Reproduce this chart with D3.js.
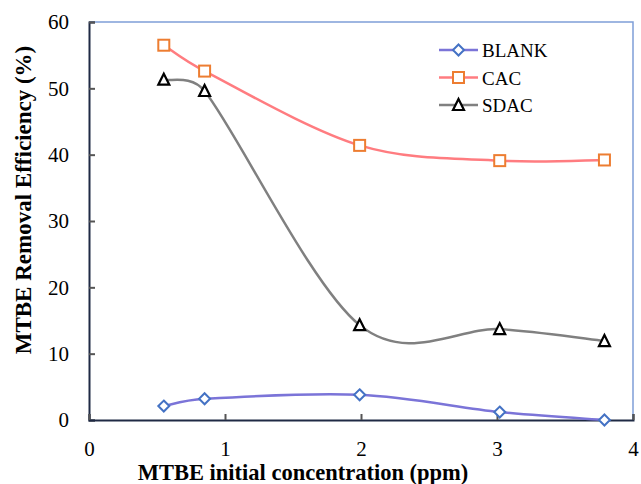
<!DOCTYPE html>
<html><head><meta charset="utf-8">
<script src="https://cdn.jsdelivr.net/npm/d3@7"></script>
<style>body{margin:0;background:#fff}svg{display:block}</style>
</head><body>
<script>
const xValues = [0.55, 0.85, 1.99, 3.02, 3.79];
const blank = [2.1, 3.2, 3.8, 1.2, 0.0];
const cac = [56.5, 52.6, 41.4, 39.1, 39.2];
const sdac = [51.3, 49.6, 14.3, 13.7, 11.9];
const xTicks = [0, 1, 2, 3, 4];
const yTicks = [0, 10, 20, 30, 40, 50, 60];
const seriesNames = ["BLANK", "CAC", "SDAC"];

const W = 641, H = 484;
const m = {l: 89, t: 22, r: 8, b: 64};
const svg = d3.select("body").append("svg").attr("width", W).attr("height", H);
const x = d3.scaleLinear().domain([0, 4]).range([m.l, W - m.r]);
const y = d3.scaleLinear().domain([0, 60]).range([H - m.b, m.t]);
const font = "'Liberation Serif', 'Times New Roman', serif";

// Excel-like smoothed line curve for d3.line
function ExcelSmooth(context) { this._context = context; }
ExcelSmooth.prototype = {
  areaStart() { this._line = 0; }, areaEnd() { this._line = NaN; },
  lineStart() { this._pts = []; },
  point(px, py) { this._pts.push([+px, +py]); },
  lineEnd() {
    const p = this._pts, c = this._context, n = p.length;
    if (!n) return;
    const dist = (a, b) => Math.hypot(b[0] - a[0], b[1] - a[1]);
    c.moveTo(p[0][0], p[0][1]);
    for (let i = 0; i < n - 1; i++) {
      const p0 = p[i - 1] || p[i], p1 = p[i], p2 = p[i + 1], p3 = p[i + 2] || p[i + 1];
      const d12 = dist(p1, p2), d02 = dist(p0, p2), d13 = dist(p1, p3);
      const f1 = (d02 / 6 < d12 / 2) ? 1 / 6 : d12 / (2 * d02);
      const f2 = (d13 / 6 < d12 / 2) ? 1 / 6 : d12 / (2 * d13);
      c.bezierCurveTo(
        p1[0] + f1 * (p2[0] - p0[0]), p1[1] + f1 * (p2[1] - p0[1]),
        p2[0] - f2 * (p3[0] - p1[0]), p2[1] - f2 * (p3[1] - p1[1]),
        p2[0], p2[1]);
    }
  }
};
const excelCurve = ctx => new ExcelSmooth(ctx);

// top/right frame
svg.append("path").attr("d", `M${x(0)},${y(60)}H${x(4)}V${y(0)}`)
  .attr("fill", "none").attr("stroke", "#7f9fd8").attr("stroke-width", 1.5);

// axes
const yAxis = d3.axisLeft(y).tickValues(yTicks).tickFormat(d3.format("d")).tickSize(-6).tickPadding(20);
const gy = svg.append("g").attr("transform", `translate(${x(0)},0)`).call(yAxis);
const xAxis = d3.axisBottom(x).tickValues(xTicks).tickFormat(d3.format("d")).tickSize(-6).tickPadding(21);
const gx = svg.append("g").attr("transform", `translate(0,${y(0)})`).call(xAxis);
[gx, gy].forEach(g => {
  g.select(".domain").attr("stroke", "#1f2a44").attr("stroke-width", 2);
  g.selectAll(".tick line").attr("stroke", "#555").attr("stroke-width", 2);
  g.selectAll(".tick text").attr("font-family", font).attr("font-size", 21).attr("fill", "#000");
});

const series = [
  {name: seriesNames[0], vals: blank, line: "#7b74d8", mark: "#4472c4", sym: "diamond"},
  {name: seriesNames[1], vals: cac, line: "#ff7c80", mark: "#ed7d31", sym: "square"},
  {name: seriesNames[2], vals: sdac, line: "#808080", mark: "#000", sym: "triangle"}
];
const lineGen = d3.line().x(d => x(d[0])).y(d => y(d[1])).curve(excelCurve);

function marker(g, s, cx, cy) {
  if (s.sym === "diamond") {
    g.append("path").attr("d", `M${cx},${cy-5.5}L${cx+5.5},${cy}L${cx},${cy+5.5}L${cx-5.5},${cy}Z`)
      .attr("fill", "#fff").attr("stroke", s.mark).attr("stroke-width", 2);
  } else if (s.sym === "square") {
    g.append("rect").attr("x", cx - 5.5).attr("y", cy - 5.5).attr("width", 11).attr("height", 11)
      .attr("fill", "#fff").attr("stroke", s.mark).attr("stroke-width", 2);
  } else {
    g.append("path").attr("d", `M${cx},${cy-6}L${cx+5.5},${cy+5}L${cx-5.5},${cy+5}Z`)
      .attr("fill", "#fff").attr("stroke", s.mark).attr("stroke-width", 2.2);
  }
}

series.forEach(s => {
  const pts = xValues.map((v, i) => [v, s.vals[i]]);
  svg.append("path").datum(pts).attr("d", lineGen).attr("fill", "none")
    .attr("stroke", s.line).attr("stroke-width", 2.5);
});
series.forEach(s => {
  const g = svg.append("g");
  xValues.forEach((v, i) => marker(g, s, x(v), y(s.vals[i])));
});

// legend
const lg = svg.append("g");
series.forEach((s, i) => {
  const ly = 50 + i * 27.5;
  lg.append("line").attr("x1", 439).attr("x2", 478).attr("y1", ly).attr("y2", ly)
    .attr("stroke", s.line).attr("stroke-width", 2.5);
  marker(lg, s, 458.5, ly);
  lg.append("text").attr("x", 482).attr("y", ly + 7).attr("font-family", font)
    .attr("font-size", 19).text(s.name);
});

// titles
svg.append("text").attr("x", 303).attr("y", 480).attr("text-anchor", "middle")
  .attr("font-family", font).attr("font-size", 22.5).attr("font-weight", "bold")
  .text("MTBE initial concentration (ppm)");
svg.append("text").attr("transform", `translate(31,200) rotate(-90)`)
  .attr("text-anchor", "middle").attr("font-family", font).attr("font-size", 23)
  .attr("font-weight", "bold").text("MTBE Removal Efficiency (%)");
</script>
</body></html>
